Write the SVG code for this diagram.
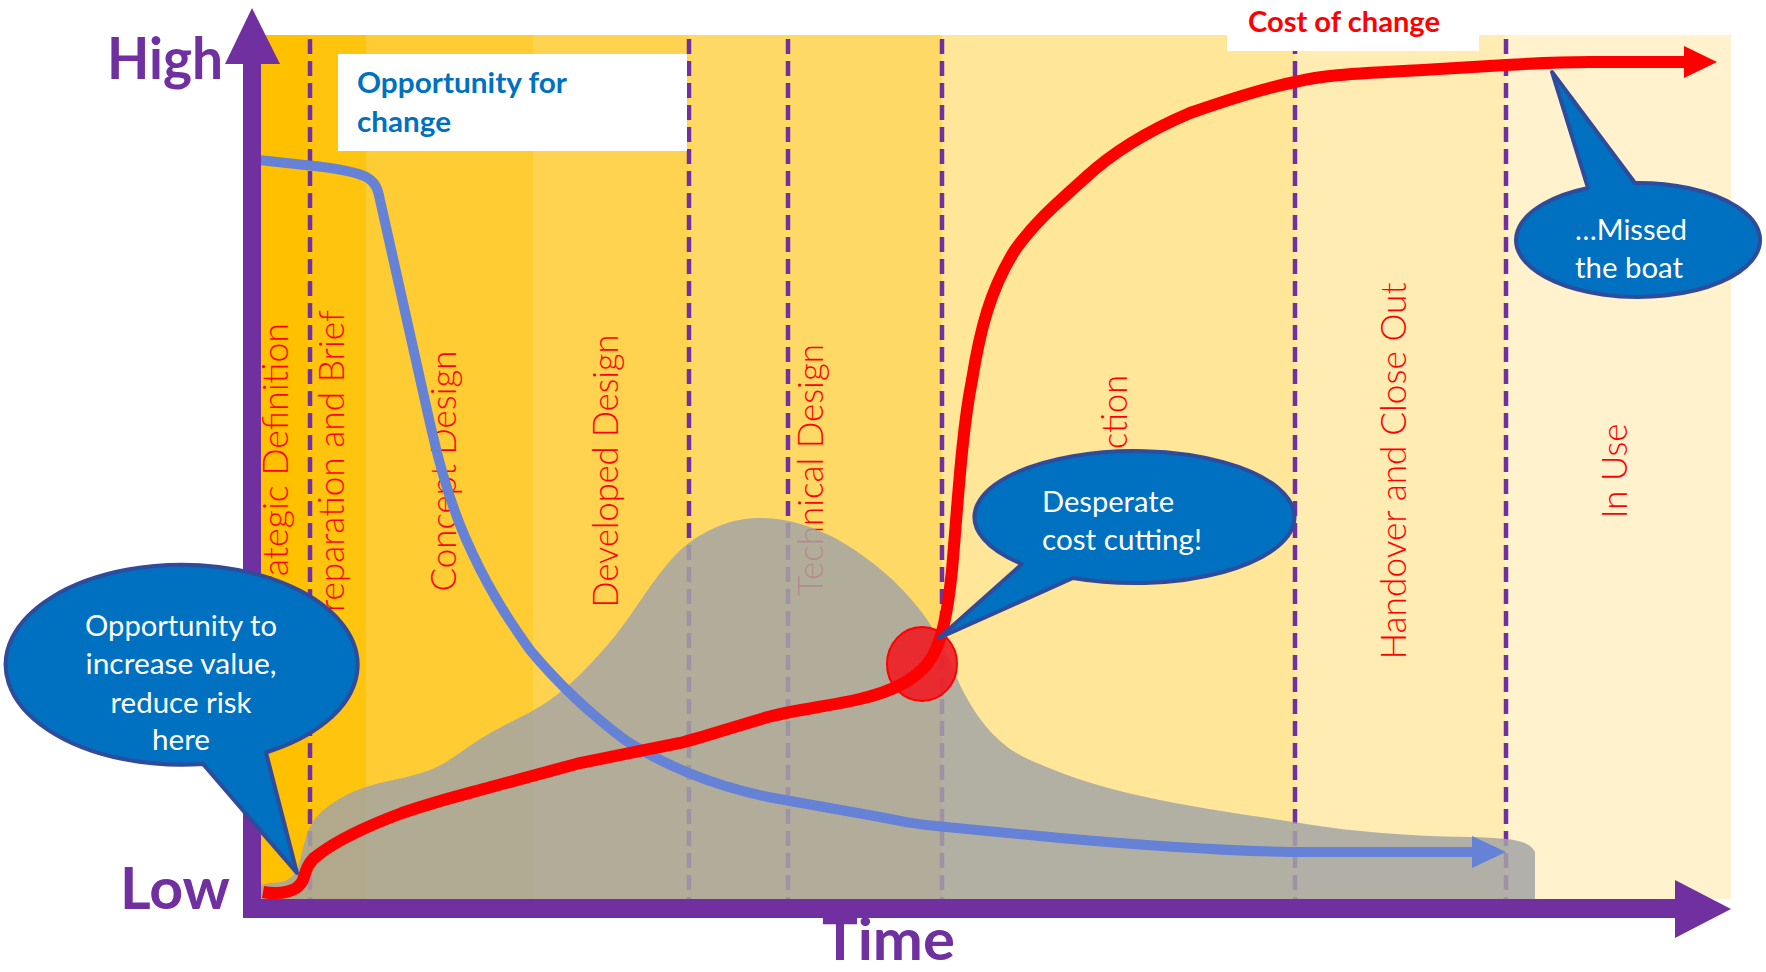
<svg xmlns="http://www.w3.org/2000/svg" width="1766" height="972" viewBox="0 0 1766 972">
<defs>
<style>
.dash{stroke:#7030A0;stroke-width:4.5;stroke-dasharray:15 7;fill:none}
.phase{font-family:"Lato","Open Sans","Liberation Sans",sans-serif;font-weight:300;font-size:36px;fill:#FF0000;text-anchor:middle}
.axis{fill:#7030A0}
.axlbl{font-family:"Lato","Liberation Sans",sans-serif;font-weight:700;font-size:58px;fill:#7030A0}
.callout{fill:#0070C0;stroke:#2F4B9B;stroke-width:4;stroke-linejoin:round}
.ctext{font-family:"Lato","Liberation Sans",sans-serif;font-size:28px;fill:#FFFFFF}
.btext{font-family:"Lato","Liberation Sans",sans-serif;font-weight:700;font-size:28px}
</style>
</defs>
<rect width="1766" height="972" fill="#FFFFFF"/>
<g id="background">
<rect x="252" y="35" width="56" height="864" fill="#FFC000"/>
<rect x="308" y="35" width="58" height="864" fill="#FFC40D"/>
<rect x="366" y="35" width="167" height="864" fill="#FFCC33"/>
<rect x="533" y="35" width="156" height="864" fill="#FFD34F"/>
<rect x="689" y="35" width="253" height="864" fill="#FFD966"/>
<rect x="942" y="35" width="353" height="864" fill="#FFE699"/>
<rect x="1295" y="35" width="210" height="864" fill="#FFECB3"/>
<rect x="1505" y="35" width="226" height="864" fill="#FFF2CC"/>
</g>
<g id="phase-dividers">
<line class="dash" x1="310" y1="39" x2="310" y2="899"/>
<line class="dash" x1="689" y1="39" x2="689" y2="899"/>
<line class="dash" x1="788" y1="39" x2="788" y2="899"/>
<line class="dash" x1="942" y1="39" x2="942" y2="899"/>
<line class="dash" x1="1295" y1="39" x2="1295" y2="899"/>
<line class="dash" x1="1506" y1="39" x2="1506" y2="899"/>
</g>
<g id="phase-labels">
<text class="phase" transform="translate(288,471) rotate(-90)" textLength="296" lengthAdjust="spacingAndGlyphs">Strategic Definition</text>
<text class="phase" transform="translate(344,471) rotate(-90)" textLength="322" lengthAdjust="spacingAndGlyphs">Preparation and Brief</text>
<text class="phase" transform="translate(456,471) rotate(-90)" textLength="241" lengthAdjust="spacingAndGlyphs">Concept Design</text>
<text class="phase" transform="translate(618,471) rotate(-90)" textLength="273" lengthAdjust="spacingAndGlyphs">Developed Design</text>
<text class="phase" transform="translate(823,470) rotate(-90)" textLength="252" lengthAdjust="spacingAndGlyphs">Technical Design</text>
<text class="phase" transform="translate(1127,471) rotate(-90)" textLength="192" lengthAdjust="spacingAndGlyphs">Construction</text>
<text class="phase" transform="translate(1406,471) rotate(-90)" textLength="377" lengthAdjust="spacingAndGlyphs">Handover and Close Out</text>
<text class="phase" transform="translate(1627,471) rotate(-90)" textLength="95" lengthAdjust="spacingAndGlyphs">In Use</text>
</g>
<g id="effort-area">
<path d="M250,899 L250,894 C254,886 262,884 272,883 C285,882 292,880 298,868 C303,852 304,835 314,820 C325,806 342,796 360,789 C385,780 410,778 430,770 C450,762 465,748 485,736 C505,724 530,714 550,700 C575,682 595,660 615,636 C640,605 660,565 690,542 C715,525 735,518 762,518 C790,518 815,528 835,538 C865,555 890,575 910,598 C932,622 946,650 960,685 C975,715 995,745 1030,760 C1070,778 1110,790 1160,800 C1220,812 1270,818 1300,823 C1340,830 1400,836 1470,837 C1510,838 1530,840 1535,852 L1535,899 Z" fill="#A5A5A5" fill-opacity="0.85"/>
</g>
<g id="opportunity-box">
<rect x="338" y="54" width="349" height="97" fill="#FFFFFF"/>
<text class="btext" x="357" y="93" fill="#0070C0" textLength="210" lengthAdjust="spacingAndGlyphs">Opportunity for</text>
<text class="btext" x="357" y="132" fill="#0070C0" textLength="94" lengthAdjust="spacingAndGlyphs">change</text>
</g>
<g id="cost-box">
<rect x="1227" y="0" width="252" height="51" fill="#FFFFFF"/>
<text class="btext" x="1248" y="32" fill="#FF0000" textLength="192" lengthAdjust="spacingAndGlyphs">Cost of change</text>
</g>
<g id="connectors">
<path id="opportunity-curve" d="M250,159 L305,165 C335,168 358,172 368,178 C376,183 378,190 380,200 L427,410 C437,455 447,495 465,537 C485,583 505,615 530,650 C555,680 585,710 625,740 C660,763 710,785 768,797 L880,817 C905,822 920,825 946,827 L1060,838 C1150,846 1230,851 1290,852 L1476,852" fill="none" stroke="#6582D6" stroke-width="10"/>
<polygon points="1472,836 1506,852 1472,868" fill="#6582D6"/>
<ellipse id="risk-point" cx="922" cy="664" rx="35" ry="37" fill="#EE1C24" fill-opacity="0.9" stroke="#FF0000" stroke-width="2"/>
<path id="cost-curve" d="M263,892 C280,895 298,892 303,880 C306,870 308,862 318,855 C340,838 370,825 402,813 C440,800 470,793 491,787 L580,763 L680,743 C700,738 730,728 768,717 C800,709 830,706 860,699 C890,692 915,680 928,663 C942,645 948,610 952,570 C958,500 962,430 972,380 C980,330 990,290 1015,250 C1035,222 1055,205 1085,178 C1115,150 1150,130 1190,113 C1230,99 1265,88 1295,82 C1320,76 1340,74 1423,70 L1506,65 C1540,63 1560,62 1590,62 L1688,62" fill="none" stroke="#FF0000" stroke-width="12"/>
<polygon points="1684,46 1717,62 1684,78" fill="#FF0000"/>
</g>
<g id="axes">
<rect class="axis" x="243" y="60" width="18" height="858"/>
<polygon class="axis" points="225,64 252,8 280,64"/>
<rect class="axis" x="252" y="899" width="1425" height="19"/>
<polygon class="axis" points="1675,880 1731,909 1675,938"/>
<text class="axlbl" x="107" y="79" textLength="116" lengthAdjust="spacingAndGlyphs">High</text>
<text class="axlbl" x="120" y="909" textLength="110" lengthAdjust="spacingAndGlyphs">Low</text>
<text class="axlbl" x="822" y="960" font-size="56" textLength="133" lengthAdjust="spacingAndGlyphs">Time</text>
</g>
<g id="callout-opportunity">
<path class="callout" d="M266,752.5 A176,100 0 1 0 203,764 L297,873 Z"/>
<text class="ctext" text-anchor="middle" x="181" y="636" textLength="192" lengthAdjust="spacingAndGlyphs">Opportunity to</text>
<text class="ctext" text-anchor="middle" x="181" y="674" textLength="191" lengthAdjust="spacingAndGlyphs">increase value,</text>
<text class="ctext" text-anchor="middle" x="181" y="713" textLength="141" lengthAdjust="spacingAndGlyphs">reduce risk</text>
<text class="ctext" text-anchor="middle" x="181" y="750" textLength="58" lengthAdjust="spacingAndGlyphs">here</text>
</g>
<g id="callout-desperate">
<path class="callout" d="M1073,578 A160,66 0 1 0 1022,564 L939,638 Z"/>
<text class="ctext" x="1042" y="512" textLength="132" lengthAdjust="spacingAndGlyphs">Desperate</text>
<text class="ctext" x="1042" y="550" textLength="160" lengthAdjust="spacingAndGlyphs">cost cutting!</text>
</g>
<g id="callout-missed">
<path class="callout" d="M1588,188 A122,57 0 1 0 1635,183 L1552,72 Z"/>
<text class="ctext" x="1575" y="240" textLength="112" lengthAdjust="spacingAndGlyphs">…Missed</text>
<text class="ctext" x="1575" y="278" textLength="108" lengthAdjust="spacingAndGlyphs">the boat</text>
</g>
</svg>
